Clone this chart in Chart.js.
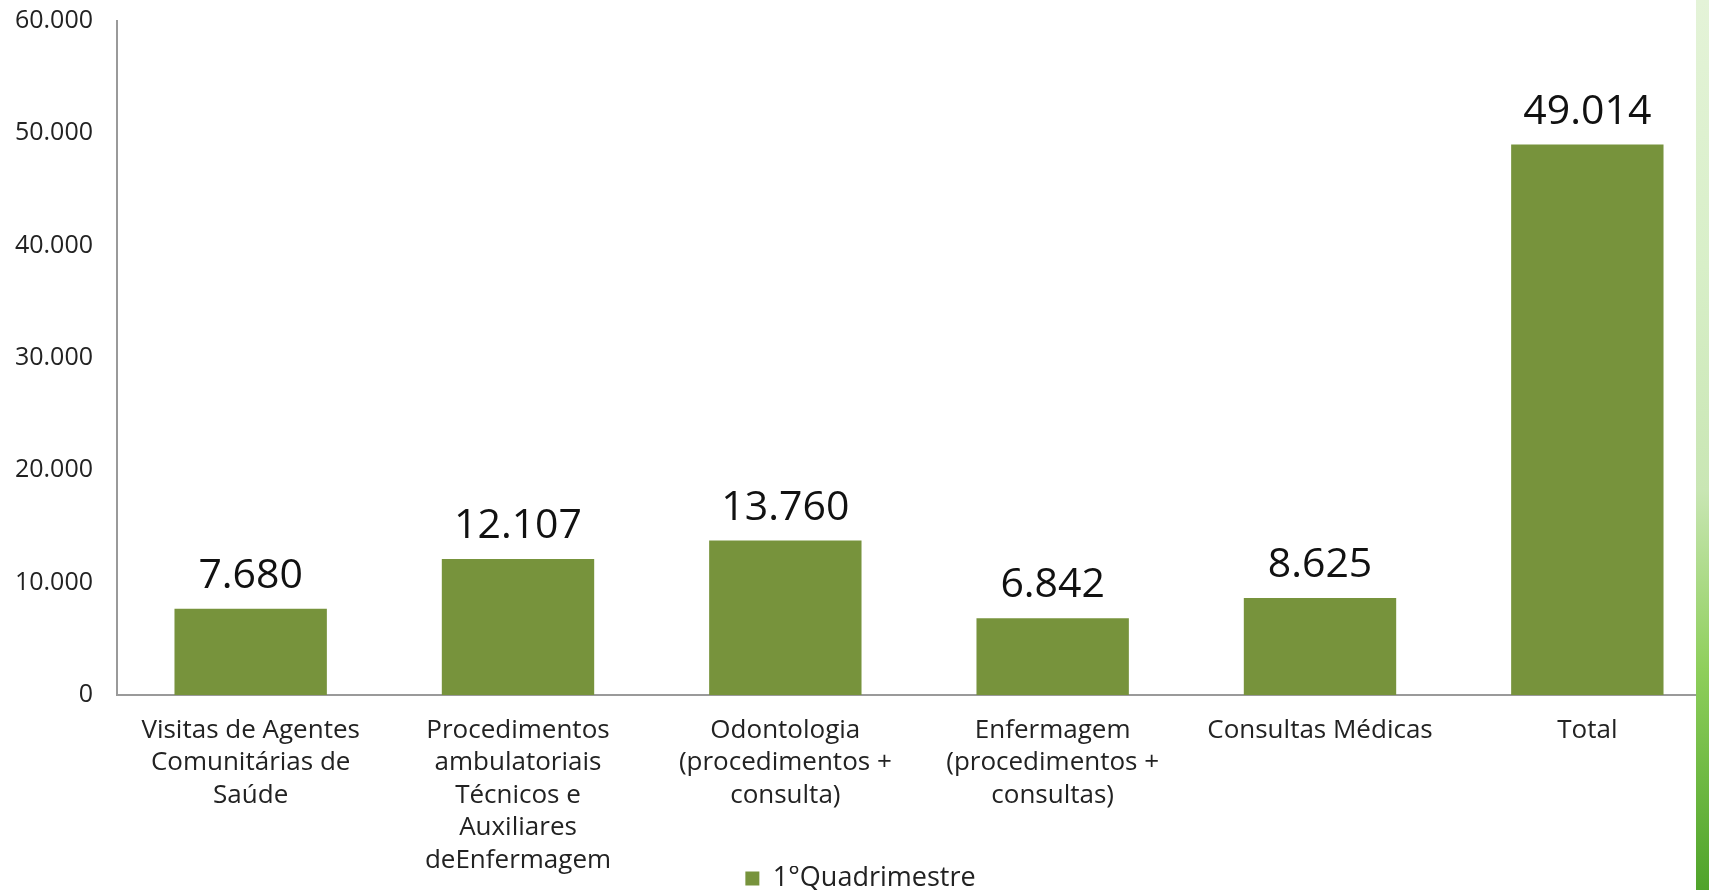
<!DOCTYPE html>
<html lang="pt">
<head>
<meta charset="utf-8">
<script src="https://cdn.jsdelivr.net/npm/chart.js@4/dist/chart.umd.min.js"></script>
<style>
  html, body { margin: 0; padding: 0; background: #fff; overflow: hidden; }
  #wrap { position: absolute; left: 0; top: 0; width: 1734px; height: 890px; }
  #faixa {
    position: absolute; left: 1696px; top: 0; width: 13px; height: 890px;
    background: linear-gradient(to bottom, #e4f3d8 0%, #d8efc8 30%, #c9e6b4 55%, #8fcf5c 75%, #4fa32a 100%);
  }
</style>
</head>
<body>
<div id="wrap"><canvas id="grafico"></canvas></div>
<div id="faixa"></div>
<script>
// === Dados ===
const categorias = [
  ['Visitas de Agentes', 'Comunitárias de', 'Saúde'],
  ['Procedimentos', 'ambulatoriais', 'Técnicos e', 'Auxiliares', 'deEnfermagem'],
  ['Odontologia', '(procedimentos +', 'consulta)'],
  ['Enfermagem', '(procedimentos +', 'consultas)'],
  ['Consultas Médicas'],
  ['Total']
];
const valores = [7680, 12107, 13760, 6842, 8625, 49014];
const serieNome = '1°Quadrimestre';
const ticksY = [0, 10000, 20000, 30000, 40000, 50000, 60000];

const fonte = "'Open Sans', 'DejaVu Sans', sans-serif";

// formata 12107 -> 12.107
function formatar(n) {
  return String(n).replace(/\B(?=(\d{3})+(?!\d))/g, '.');
}

// === Plugin: rótulos acima das barras ===
const rotulos = {
  id: 'rotulos',
  afterDatasetsDraw(chart) {
    const ctx = chart.ctx;
    const meta = chart.getDatasetMeta(0);
    ctx.save();
    ctx.font = '41px ' + fonte;
    ctx.fillStyle = '#111';
    ctx.textAlign = 'center';
    ctx.textBaseline = 'bottom';
    meta.data.forEach((barra, i) => {
      ctx.fillText(formatar(chart.data.datasets[0].data[i]), barra.x, barra.y - 12);
    });
    ctx.restore();
  }
};

new Chart(document.getElementById('grafico'), {
  type: 'bar',
  data: {
    labels: categorias,
    datasets: [{
      label: serieNome,
      data: valores,
      backgroundColor: '#77933c',
      barPercentage: 0.57,
      categoryPercentage: 1
    }]
  },
  options: {
    responsive: true,
    maintainAspectRatio: false,
    animation: false,
    layout: { padding: { top: 21, left: 0, right: 13, bottom: 0 } },
    plugins: {
      legend: {
        position: 'bottom',
        maxHeight: 24,   // legenda bem junto das categorias
        labels: {
          boxWidth: 14,
          boxHeight: 14,
          color: '#222',
          font: { family: fonte, size: 27 },
          padding: -1
        }
      },
      tooltip: { enabled: false }
    },
    scales: {
      x: {
        afterFit: scale => {
          scale.height = 171;
          // a última linha das categorias encosta na legenda: não cortar
          scale._computeLabelArea = () => undefined;
        },
        grid: { display: false, drawTicks: false },
        border: { color: '#9a9a9a', width: 2 },
        ticks: {
          color: '#222',
          font: { family: fonte, size: 26, lineHeight: 1.25 },
          padding: 19,
          maxRotation: 0,
          autoSkip: false
        }
      },
      y: {
        min: 0,
        max: 60000,
        afterBuildTicks: scale => { scale.ticks = ticksY.map(v => ({ value: v })); },
        afterFit: scale => {
          scale.width = 117;
          scale.paddingTop = 0;
          scale.paddingBottom = 0;
        },
        grid: { display: false, drawTicks: false },
        border: { color: '#9a9a9a', width: 2 },
        ticks: {
          color: '#222',
          font: { family: fonte, size: 25 },
          padding: 24,
          callback: v => formatar(v)
        }
      }
    }
  },
  plugins: [rotulos]
});
</script>
</body>
</html>
